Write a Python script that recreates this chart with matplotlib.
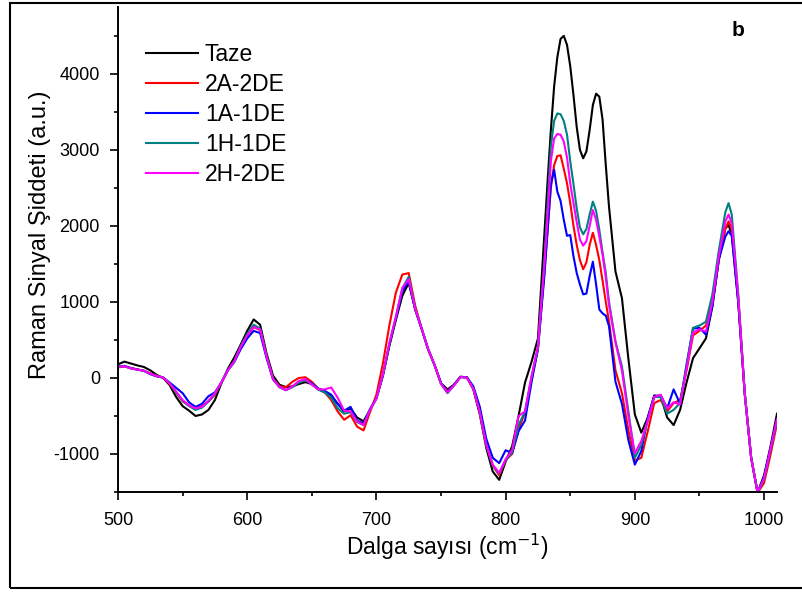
import numpy as np
import matplotlib
matplotlib.use("Agg")
import matplotlib.pyplot as plt
from matplotlib.patches import Rectangle

plt.rcParams['font.family'] = ['Liberation Sans', 'DejaVu Sans']
plt.rcParams['axes.unicode_minus'] = False

# Wavenumber sampling (cm^-1): finer steps across the sharp bands
wavenumber = np.r_[np.arange(500, 826, 5),
                   np.arange(830, 878, 2.5),
                   np.arange(880, 971, 5),
                   [972.5],
                   np.arange(975, 1011, 5)]

taze = [
    180, 215, 190, 165, 145, 100, 40, 0, -95, -250,
    -370, -430, -500, -480, -420, -290, -70, 120, 270, 440,
    620, 770, 700, 320, 30, -90, -120, -110, -80, -55,
    -80, -150, -190, -240, -340, -440, -400, -520, -570, -420,
    -260, 30, 420, 760, 1080, 1250, 900, 640, 380, 170,
    -70, -150, -90, 15, 10, -150, -480, -920, -1230, -1340,
    -1100, -900, -500, -60, 210, 520,
    1900, 2600, 3260, 3830, 4220, 4460, 4500, 4380, 4100, 3720,
    3300, 3000, 2890, 2980, 3260, 3590, 3740, 3700, 3400, 2800,
    2250, 1400, 1050, 250, -480, -720, -520, -230, -240, -520,
    -620, -420, -60, 260, 390, 520, 940, 1560, 1970,
    2010,
    1890, 1000, -200, -1050, -1510, -1280, -900, -470,
]

s_2a_2de = [
    140, 150, 130, 115, 95, 60, 30, 5, -80, -190,
    -310, -360, -400, -370, -310, -220, -60, 100, 220, 410,
    550, 670, 630, 280, -10, -110, -120, -50, 0, 10,
    -50, -140, -190, -290, -440, -550, -490, -640, -690, -450,
    -220, 190, 690, 1120, 1360, 1380, 950, 650, 370, 170,
    -70, -170, -90, 15, 5, -140, -460, -880, -1150, -1280,
    -1080, -1000, -680, -450, -20, 380,
    1400, 1950, 2500, 2800, 2920, 2930, 2750, 2560, 2300, 2000,
    1750, 1550, 1430, 1520, 1750, 1910, 1750, 1550, 1280, 1000,
    740, 100, -200, -690, -1090, -1050, -700, -330, -290, -440,
    -330, -290, 100, 560, 620, 690, 980, 1560, 1960,
    2060,
    1960, 1050, -200, -1050, -1510, -1380, -1010, -600,
]

s_1a_1de = [
    150, 160, 130, 110, 95, 50, 20, 5, -60, -130,
    -200, -320, -380, -340, -240, -190, -60, 100, 210, 380,
    520, 620, 590, 260, -20, -120, -160, -110, -50, -20,
    -70, -140, -170, -220, -340, -430, -380, -560, -600, -410,
    -270, 30, 440, 780, 1140, 1270, 900, 650, 380, 170,
    -70, -180, -90, 15, 10, -110, -380, -800, -1050, -1120,
    -950, -990, -700, -560, -60, 380,
    1350, 1950, 2550, 2740, 2450, 2330, 2080, 1870, 1880, 1600,
    1380, 1230, 1100, 1110, 1340, 1530, 1230, 900, 850, 820,
    680, -50, -340, -820, -1140, -960, -520, -240, -230, -400,
    -150, -340, 180, 650, 660, 570, 950, 1560, 1860,
    1930,
    1870, 1000, -200, -1050, -1510, -1300, -920, -540,
]

s_1h_1de = [
    145, 155, 125, 110, 95, 55, 25, 5, -70, -190,
    -300, -370, -420, -390, -310, -210, -60, 100, 220, 420,
    580, 700, 650, 290, -10, -120, -160, -120, -60, -30,
    -80, -150, -190, -260, -400, -470, -450, -580, -620, -420,
    -270, 40, 450, 800, 1180, 1330, 920, 650, 380, 170,
    -80, -200, -100, 10, 5, -140, -450, -880, -1150, -1260,
    -1080, -980, -620, -440, 10, 400,
    1550, 2300, 3050, 3380, 3480, 3470, 3380, 3200, 2850, 2550,
    2230, 1980, 1890, 1960, 2150, 2320, 2200, 1950, 1650, 1380,
    1000, 480, 150, -440, -1050, -880, -560, -250, -250, -470,
    -420, -330, 150, 660, 690, 740, 1100, 1680, 2180,
    2300,
    2150, 1100, -180, -1040, -1510, -1330, -950, -560,
]

s_2h_2de = [
    145, 155, 125, 110, 95, 55, 25, 5, -70, -180,
    -290, -360, -400, -380, -300, -200, -60, 100, 220, 410,
    560, 670, 640, 280, -15, -120, -160, -110, -40, -15,
    -90, -150, -150, -125, -260, -430, -440, -570, -620, -420,
    -270, 50, 460, 800, 1180, 1300, 910, 650, 380, 170,
    -80, -190, -100, 10, 5, -140, -450, -880, -1140, -1250,
    -1070, -950, -500, -440, 20, 420,
    1500, 2150, 2850, 3150, 3210, 3200, 3110, 2900, 2560, 2300,
    2050, 1820, 1740, 1800, 2000, 2210, 2080, 1860, 1620, 1320,
    960, 470, 100, -500, -990, -830, -560, -250, -220, -400,
    -320, -350, 120, 600, 640, 610, 1000, 1600, 2060,
    2150,
    2030, 1080, -200, -1050, -1510, -1320, -930, -540,
]

series = [
    ("Taze", taze, "#000000"),
    ("2A-2DE", s_2a_2de, "#FF0000"),
    ("1A-1DE", s_1a_1de, "#0000FF"),
    ("1H-1DE", s_1h_1de, "#008080"),
    ("2H-2DE", s_2h_2de, "#FF00FF"),
]

fig = plt.figure(figsize=(8.03, 5.92), dpi=100)
ax = fig.add_axes([0.14695, 0.16892, 0.82067, 0.81926])

for label, values, color in series:
    ax.plot(wavenumber, values, color=color, lw=1.5, label=label,
            solid_joinstyle="round")

ax.set_xlim(500, 1010)
ax.set_ylim(-1490, 4880)
ax.set_xticks(np.arange(500, 1001, 100))
ax.set_xticks(np.arange(550, 1001, 100), minor=True)
ax.set_yticks(np.arange(-1000, 4001, 1000))
ax.set_yticks(np.arange(-1500, 4501, 1000), minor=True)

for side in ("top", "right"):
    ax.spines[side].set_visible(False)
for side in ("left", "bottom"):
    ax.spines[side].set_linewidth(1.4)

ax.tick_params(axis="both", which="major", direction="out", length=6, width=1.2,
               labelsize=13)
ax.tick_params(axis="x", which="major", pad=8.5)
ax.tick_params(axis="y", which="major", pad=7)
ax.tick_params(axis="both", which="minor", direction="out", length=3, width=1.2)

ax.set_xlabel("Dalga sayısı (cm$^{-1}$)", fontsize=16.5, labelpad=2)
ax.set_ylabel("Raman Sinyal Şiddeti (a.u.)", fontsize=17, labelpad=2)
ax.yaxis.label.set_y(0.53)

ax.legend(loc="upper left", bbox_to_anchor=(146 / 803, 1 - 43 / 592),
          bbox_transform=fig.transFigure, frameon=False, fontsize=16.5,
          handlelength=2.27, handletextpad=0.3, labelspacing=0.31,
          borderpad=0, borderaxespad=0)

ax.text(738 / 803, 1 - 31 / 592, "b", transform=fig.transFigure,
        fontsize=15, fontweight="bold", ha="center", va="center")

# Frame around the panel
fig.add_artist(Rectangle((10.5 / 803, 4.5 / 592), 1.2, (587.5 - 2.5) / 592,
                         transform=fig.transFigure, fill=False,
                         edgecolor="black", lw=1.5, clip_on=False))

fig.savefig("out.png", dpi=100)
